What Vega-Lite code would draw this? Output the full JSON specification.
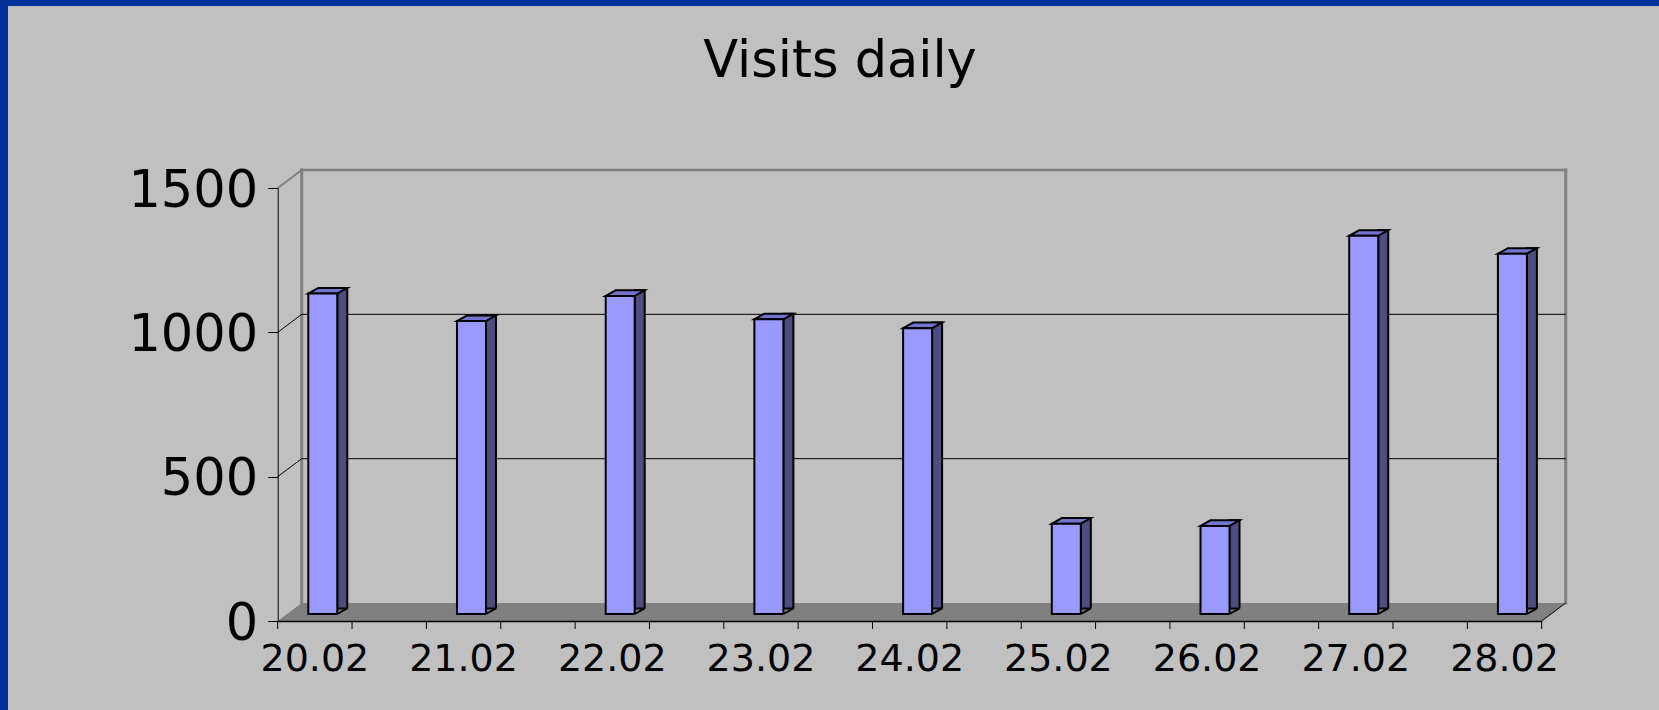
{
  "$schema": "https://vega.github.io/schema/vega-lite/v6.json",
  "width": 1651,
  "height": 704,
  "autosize": {"type": "none"},
  "padding": {"left": 8, "top": 6, "right": 0, "bottom": 0},
  "background": "#003399",
  "config": {"view": {"fill": "#C0C0C0", "stroke": null}, "font": "DejaVu Sans"},
  "title": {"text": "Visits daily", "font": "DejaVu Sans", "fontSize": 51, "fontWeight": "normal", "color": "#000000", "anchor": "middle", "frame": "group", "baseline": "alphabetic", "offset": -72, "dx": 6.5, "dy": 50},
  "datasets": {
    "visits": [
      {"date": "20.02", "visits": 1110},
      {"date": "21.02", "visits": 1015},
      {"date": "22.02", "visits": 1102},
      {"date": "23.02", "visits": 1021},
      {"date": "24.02", "visits": 990},
      {"date": "25.02", "visits": 313},
      {"date": "26.02", "visits": 305},
      {"date": "27.02", "visits": 1310},
      {"date": "28.02", "visits": 1248}
    ],
    "grid": [{"v": 500}, {"v": 1000}],
    "one": [{"k": 1}]
  },
  "data": {"name": "visits"},
  "layer": [
    {
      "mark": {"type": "bar", "width": 29, "xOffset": 7.9, "yOffset": -7, "y2Offset": -7, "fill": "#9999FF", "opacity": 0, "strokeWidth": 0},
      "encoding": {
        "x": {
          "field": "date", "type": "nominal",
          "scale": {"domain": ["20.02", "21.02", "22.02", "23.02", "24.02", "25.02", "26.02", "27.02", "28.02"], "range": [269.7, 1533.7], "paddingInner": 0.5, "paddingOuter": 0},
          "axis": {"orient": "bottom", "offset": -89, "title": null, "ticks": false, "grid": false, "domainColor": "#000000", "domainWidth": 1.5, "labelFont": "DejaVu Sans", "labelFontSize": 38, "labelColor": "#000000", "labelPadding": 19, "labelAngle": 0, "zindex": 1}
        },
        "y": {
          "field": "visits", "type": "quantitative",
          "scale": {"domain": [0, 1500], "range": [615, 182], "nice": false, "zero": true},
          "axis": {"orient": "left", "offset": -269.7, "title": null, "values": [0, 500, 1000, 1500], "format": "d", "grid": false, "domainColor": "#000000", "domainWidth": 1, "tickColor": "#000000", "tickSize": 10, "tickWidth": 1, "labelFont": "DejaVu Sans", "labelFontSize": 51, "labelColor": "#000000", "labelPadding": 10, "labelOffset": 3, "zindex": 1}
        }
      }
    },
    {
      "data": {"name": "one"},
      "mark": {"type": "rule", "color": "#808080", "strokeWidth": 2.5, "strokeCap": "square", "xOffset": -13.175, "x2Offset": 61.2, "yOffset": -18},
      "encoding": {
        "x": {"datum": "20.02", "type": "nominal"},
        "x2": {"datum": "28.02"},
        "y": {"datum": 1500, "type": "quantitative"}
      }
    },
    {
      "data": {"name": "one"},
      "mark": {"type": "rule", "color": "#808080", "strokeWidth": 3, "strokeCap": "square", "xOffset": -13.175, "yOffset": -18, "y2Offset": -18},
      "encoding": {
        "x": {"datum": "20.02", "type": "nominal"},
        "y": {"datum": 1500, "type": "quantitative"},
        "y2": {"datum": 0}
      }
    },
    {
      "data": {"name": "one"},
      "mark": {"type": "rule", "color": "#808080", "strokeWidth": 3, "strokeCap": "square", "xOffset": 61.2, "yOffset": -18, "y2Offset": -18},
      "encoding": {
        "x": {"datum": "28.02", "type": "nominal"},
        "y": {"datum": 1500, "type": "quantitative"},
        "y2": {"datum": 0}
      }
    },
    {
      "data": {"name": "grid"},
      "mark": {"type": "rule", "color": "#000000", "strokeWidth": 1, "xOffset": -13.175, "x2Offset": 61.2, "yOffset": -18},
      "encoding": {
        "x": {"datum": "20.02", "type": "nominal"},
        "x2": {"datum": "28.02"},
        "y": {"field": "v", "type": "quantitative"}
      }
    },
    {
      "data": {"name": "one"},
      "mark": {"type": "point", "filled": true, "fill": "#808080", "opacity": 1, "strokeWidth": 0, "size": 1658944, "xOffset": 12, "yOffset": -9,
        "shape": "M -1 0.013975 L 0.96273 0.013975 L 1 -0.013975 L -0.96273 -0.013975 Z"},
      "encoding": {
        "x": {"datum": "24.02", "type": "nominal"},
        "y": {"datum": 0, "type": "quantitative"}
      }
    },
    {
      "data": {"name": "grid"},
      "mark": {"type": "rule", "color": "#000000", "strokeWidth": 1, "xOffset": -37.175, "x2Offset": -13.175, "y2Offset": -18},
      "encoding": {
        "x": {"datum": "20.02", "type": "nominal"},
        "x2": {"datum": "20.02"},
        "y": {"field": "v", "type": "quantitative"},
        "y2": {"field": "v"}
      }
    },
    {
      "data": {"name": "one"},
      "mark": {"type": "rule", "color": "#808080", "strokeWidth": 2, "xOffset": -37.175, "x2Offset": -13.175, "y2Offset": -18},
      "encoding": {
        "x": {"datum": "20.02", "type": "nominal"},
        "x2": {"datum": "20.02"},
        "y": {"datum": 1500, "type": "quantitative"},
        "y2": {"datum": 1500}
      }
    },
    {
      "data": {"name": "one"},
      "mark": {"type": "rule", "color": "#000000", "strokeWidth": 1, "xOffset": 37.175, "x2Offset": 61.2, "y2Offset": -18},
      "encoding": {
        "x": {"datum": "28.02", "type": "nominal"},
        "x2": {"datum": "28.02"},
        "y": {"datum": 0, "type": "quantitative"},
        "y2": {"datum": 0}
      }
    },
    {
      "mark": {"type": "rule", "color": "#000000", "strokeWidth": 1, "xOffset": -37.175, "y2Offset": 8},
      "encoding": {
        "x": {"field": "date", "type": "nominal"},
        "y": {"datum": 0, "type": "quantitative"},
        "y2": {"datum": 0}
      }
    },
    {
      "mark": {"type": "rule", "color": "#000000", "strokeWidth": 1, "xOffset": 37.175, "y2Offset": 8},
      "encoding": {
        "x": {"field": "date", "type": "nominal"},
        "y": {"datum": 0, "type": "quantitative"},
        "y2": {"datum": 0}
      }
    },
    {
      "mark": {"type": "bar", "width": 10, "xOffset": 27.4, "yOffset": -12.6, "y2Offset": -7, "fill": "#4D4D80", "stroke": "#000000", "strokeWidth": 2},
      "encoding": {
        "x": {"field": "date", "type": "nominal"},
        "y": {"field": "visits", "type": "quantitative"}
      }
    },
    {
      "mark": {"type": "point", "filled": true, "fill": "#7373D0", "stroke": "#000000", "strokeWidth": 2, "strokeJoin": "miter", "opacity": 1, "size": 1521, "xOffset": 12.9, "yOffset": -9.8,
        "shape": "M -1 0.1436 L 0.4872 0.1436 L 1 -0.1436 L -0.4872 -0.1436 Z"},
      "encoding": {
        "x": {"field": "date", "type": "nominal"},
        "y": {"field": "visits", "type": "quantitative"}
      }
    },
    {
      "mark": {"type": "bar", "width": 29, "xOffset": 7.9, "yOffset": -7, "y2Offset": -7, "fill": "#9999FF", "stroke": "#000000", "strokeWidth": 2},
      "encoding": {
        "x": {"field": "date", "type": "nominal"},
        "y": {"field": "visits", "type": "quantitative"}
      }
    },
    {
      "mark": {"type": "point", "filled": true, "fill": "#808080", "opacity": 1, "strokeWidth": 0, "size": 144, "xOffset": 28.1, "yOffset": -9,
        "shape": "M -0.95 0.333 L 0.717 -0.6 L 0.967 -0.6 L 0.967 0.583 L -0.95 0.583 Z"},
      "encoding": {
        "x": {"field": "date", "type": "nominal"},
        "y": {"datum": 0, "type": "quantitative"}
      }
    },
    {
      "mark": {"type": "point", "filled": false, "stroke": "#000000", "strokeWidth": 2, "opacity": 1, "size": 144, "xOffset": 28.1, "yOffset": -9,
        "shape": "M -0.95 0.333 L 0.717 -0.6"},
      "encoding": {
        "x": {"field": "date", "type": "nominal"},
        "y": {"datum": 0, "type": "quantitative"}
      }
    }
  ]
}
